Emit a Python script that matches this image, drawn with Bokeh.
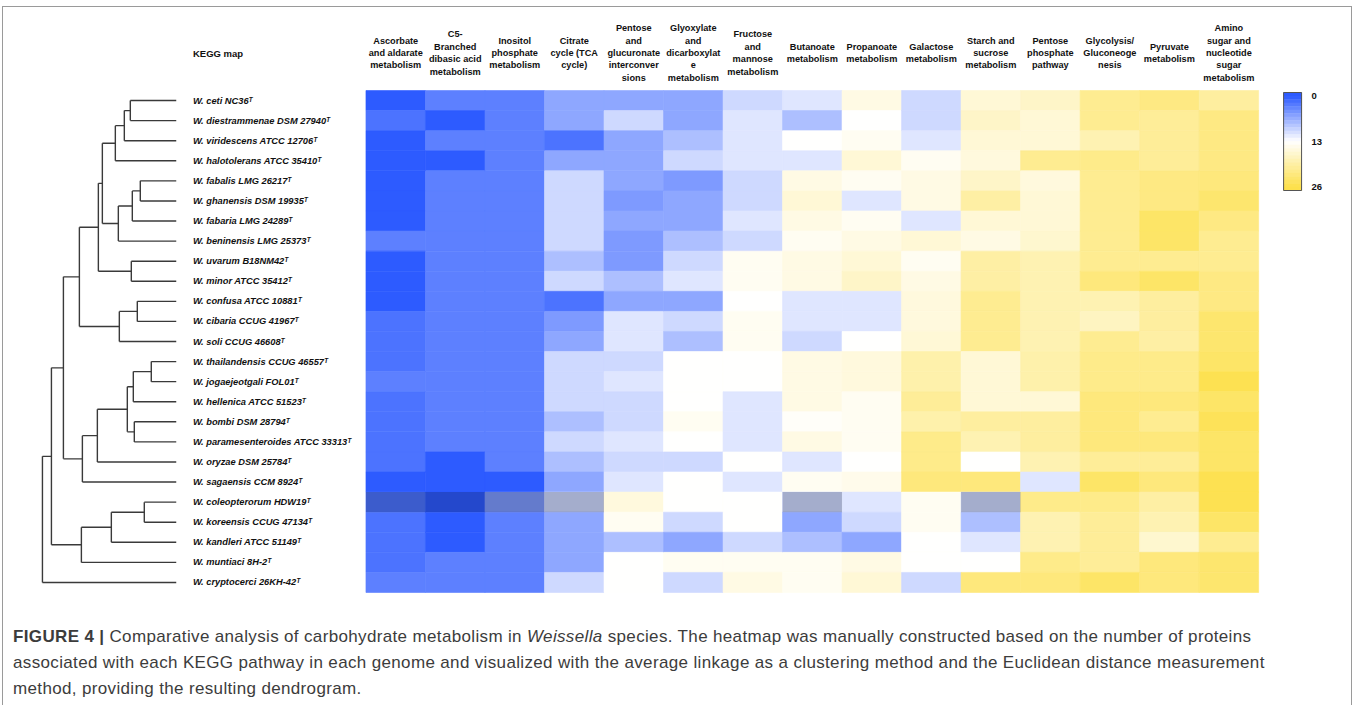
from bokeh.plotting import figure
from bokeh.models import Range1d, ColumnDataSource, LinearColorMapper, Div
from bokeh.transform import transform
from bokeh.layouts import column
from bokeh.core.properties import value
from bokeh.embed import file_html
from bokeh.resources import INLINE

# ---------------- data ----------------
strains = [
    "W. ceti NC36", "W. diestrammenae DSM 27940", "W. viridescens ATCC 12706",
    "W. halotolerans ATCC 35410", "W. fabalis LMG 26217", "W. ghanensis DSM 19935",
    "W. fabaria LMG 24289", "W. beninensis LMG 25373", "W. uvarum B18NM42",
    "W. minor ATCC 35412", "W. confusa ATCC 10881", "W. cibaria CCUG 41967",
    "W. soli CCUG 46608", "W. thailandensis CCUG 46557", "W. jogaejeotgali FOL01",
    "W. hellenica ATCC 51523", "W. bombi DSM 28794", "W. paramesenteroides ATCC 33313",
    "W. oryzae DSM 25784", "W. sagaensis CCM 8924", "W. coleopterorum HDW19",
    "W. koreensis CCUG 47134", "W. kandleri ATCC 51149", "W. muntiaci 8H-2",
    "W. cryptocerci 26KH-42",
]
type_strain_mark = "\u1d40"

pathway_labels = [
    "Ascorbate\nand aldarate\nmetabolism",
    "C5-\nBranched\ndibasic acid\nmetabolism",
    "Inositol\nphosphate\nmetabolism",
    "Citrate\ncycle (TCA\ncycle)",
    "Pentose\nand\nglucuronate\ninterconver\nsions",
    "Glyoxylate\nand\ndicarboxylat\ne\nmetabolism",
    "Fructose\nand\nmannose\nmetabolism",
    "Butanoate\nmetabolism",
    "Propanoate\nmetabolism",
    "Galactose\nmetabolism",
    "Starch and\nsucrose\nmetabolism",
    "Pentose\nphosphate\npathway",
    "Glycolysis/\nGluconeoge\nnesis",
    "Pyruvate\nmetabolism",
    "Amino\nsugar and\nnucleotide\nsugar\nmetabolism",
]

# protein counts per pathway (one list per column, rows in strain order)
ascorbate   = [0, 2, 0, 0, 0, 0, 0, 3, 0, 0, 0, 2, 2, 2, 3, 2, 2, 2, 2, 0, 2, 2, 2, 2, 3]
c5_branched = [3, 0, 3, 0, 3, 3, 3, 3, 3, 3, 3, 3, 3, 3, 3, 3, 3, 3, 0, 0, 0, 0, 0, 3, 3]
inositol    = [3, 3, 3, 3, 3, 3, 3, 3, 3, 3, 3, 3, 3, 3, 3, 3, 3, 3, 3, 0, 5, 3, 3, 3, 3]
citrate     = [6, 6, 2, 6, 10, 10, 10, 10, 8, 10, 2, 5, 6, 10, 10, 10, 8, 10, 8, 6, 10, 6, 6, 6, 10]
pentose_gl  = [6, 10, 6, 6, 6, 5, 6, 5, 5, 8, 6, 11, 11, 10, 11, 10, 10, 11, 10, 11, 15.5, 14, 8, 13, 13]
glyoxylate  = [6, 6, 8, 10, 5, 6, 6, 8, 10, 11, 6, 10, 8, 13, 13, 13, 14, 13, 10, 13, 13, 10, 6, 14, 10]
fructose    = [10, 11, 11, 11, 10, 10, 11, 10, 14, 14, 13, 14, 14, 13, 13, 11, 11, 11, 13, 11, 13, 13, 10, 14, 15]
butanoate   = [11, 8, 13, 11, 15, 16, 15, 14, 15, 15, 11, 11, 10, 15, 15, 15, 13.5, 15, 11, 14, 10, 6, 8, 14, 14]
propanoate  = [15, 13, 14, 16, 14, 11, 14, 15, 16, 17, 11, 11, 13, 15.5, 15.5, 14, 14, 14, 13, 14.5, 11, 10, 6, 15, 16]
galactose   = [10, 10, 11, 14, 15, 15, 11, 16, 14, 15, 15.5, 15.5, 16, 19, 19, 20.5, 19, 21.5, 21.5, 22.5, 14, 14, 13, 13, 10]
starch      = [16, 17, 16, 15.5, 17, 19.5, 16, 15, 19.5, 19.5, 21, 21, 21, 16, 16, 16, 20, 18.5, 13, 22.5, 10, 8, 11, 13, 22.5]
pentose_ph  = [17, 16, 16, 21, 15.5, 16, 16, 16.5, 18.5, 18.5, 18.5, 18.5, 18.5, 19, 19, 16, 20, 20, 18.5, 11, 21.5, 18.5, 18.5, 21.5, 22.5]
glycolysis  = [21, 21, 18.5, 21.5, 21, 21, 21, 21, 21, 22.5, 18.5, 17.5, 21, 21.5, 21.5, 22.5, 22.5, 22.5, 20.5, 24, 21.5, 20.5, 20.5, 20.5, 24]
pyruvate    = [22, 20.5, 20.5, 20.5, 22, 22, 24, 24, 21, 24, 20, 20, 19.5, 21.5, 21.5, 22.5, 21, 22.5, 20.5, 22.5, 19.5, 18.5, 16.5, 22.5, 22.5]
amino_sugar = [20, 22, 22, 22, 22.5, 23.5, 22, 21, 21, 22, 22, 23.5, 23.5, 24, 25.5, 24, 25, 24, 24, 25.5, 25.5, 24, 21, 23.5, 23.5]

columns = [ascorbate, c5_branched, inositol, citrate, pentose_gl, glyoxylate, fructose,
           butanoate, propanoate, galactose, starch, pentose_ph, glycolysis, pyruvate, amino_sugar]

# row that appears shaded (darker) in the original heatmap
shaded_row = "W. coleopterorum HDW19"

# average-linkage dendrogram: (left, right, distance); ids >= 25 are earlier merges
merge_left   = [0, 25, 26, 4, 28, 29, 27, 8, 31, 10, 34, 33, 13, 37, 16, 38, 40, 41, 36, 20, 44, 45, 43, 47]
merge_right  = [1, 2, 3, 5, 6, 7, 30, 9, 32, 11, 12, 35, 14, 15, 17, 39, 18, 19, 42, 21, 22, 23, 46, 24]
merge_height = [4.6, 5.2, 6.1, 3.6, 4.4, 5.8, 7.4, 4.5, 7.8, 3.9, 5.7, 9.7, 2.5, 4.3, 4.2, 4.9,
                7.9, 9.4, 11.3, 3.2, 6.5, 9.5, 12.5, 13.4]

scale_ticks = [0, 13, 26]

# ---------------- layout constants (pixels inside the figure) ----------------
W, H = 1350, 612
CAP_H = 86
HM_L, HM_R = 363, 1257        # heatmap left/right
HM_T, HM_B = 83, 585          # heatmap top/bottom
LEAF_X, DPX = 173, 10.0       # leaf tip x, px per distance unit
LABEL_DX = -173               # row label start relative to heatmap left
CB_L, CB_R, CB_T, CB_B = 1282, 1300, 85, 183
CB_LO, CB_HI = -1, 27

n_rows, n_cols = len(strains), len(columns)


def x_range_px(v0, p0, v1, p1, size):
    k = (v1 - v0) / (p1 - p0)
    return Range1d(start=v0 - p0 * k, end=v0 + (size - p0) * k)


def y_range_px(v0, p0, v1, p1, size):
    # p measured from top; Bokeh start = bottom
    k = (v1 - v0) / (p1 - p0)
    return Range1d(start=v0 + (size - p0) * k, end=v0 - p0 * k)


p = figure(width=W, height=H,
           x_range=x_range_px(0, HM_L, n_cols, HM_R, W),
           y_range=y_range_px(0, HM_T, n_rows, HM_B, H),
           output_backend="svg", toolbar_location=None,
           x_axis_location=None, y_axis_location=None,
           min_border=0, outline_line_color=None)
p.grid.visible = False
p.background_fill_color = "white"
p.extra_x_ranges = {
    "dendro": x_range_px(0, LEAF_X, 1, LEAF_X - DPX, W),
    "cb": x_range_px(0, CB_L, 1, CB_R, W),
}
p.extra_y_ranges = {"cbv": y_range_px(CB_LO, CB_T, CB_HI, CB_B, H)}

# palette blue -> white -> yellow
BLUE, WHITE, YELLOW = (45, 91, 255), (255, 255, 255), (253, 224, 76)


def lerp(a, b, t):
    return tuple(round(x + (y - x) * t) for x, y in zip(a, b))


palette = []
for i in range(256):
    t = i / 255
    c = lerp(BLUE, WHITE, t * 2) if t < 0.5 else lerp(WHITE, YELLOW, (t - 0.5) * 2)
    palette.append("#%02x%02x%02x" % c)
mapper = LinearColorMapper(palette=palette, low=scale_ticks[0], high=scale_ticks[-1])

# heatmap cells
xs, ys, vals, shx, shy = [], [], [], [], []
for ci, col in enumerate(columns):
    for ri, v in enumerate(col):
        xs.append(ci + 0.5)
        ys.append(ri + 0.5)
        vals.append(v)
        if strains[ri] == shaded_row and v <= 10:
            shx.append(ci + 0.5)
            shy.append(ri + 0.5)
src = ColumnDataSource(dict(x=xs, y=ys, v=vals))
p.rect(x="x", y="y", width=1, height=1, source=src,
       fill_color=transform("v", mapper), line_color=transform("v", mapper), line_width=0.6)
p.rect(x=shx, y=shy, width=1, height=1, fill_color="black", fill_alpha=0.2, line_color=None)

FONT = value("Liberation Sans")

# column headers
p.text(x=[c + 0.5 for c in range(n_cols)], y=[0] * n_cols, text=pathway_labels,
       y_offset=-37.5, text_align="center", text_baseline="middle",
       text_font=FONT, text_font_style="bold", text_font_size="9.2px",
       text_line_height=1.24, text_color="#111111")
p.text(x=[0], y=[0], text=["KEGG map"], x_offset=LABEL_DX, y_offset=-37.5,
       text_align="left", text_baseline="middle", text_font=FONT,
       text_font_style="bold", text_font_size="9.5px", text_color="#111111")

# row labels
p.text(x=[0] * n_rows, y=[r + 0.5 for r in range(n_rows)],
       text=[s + type_strain_mark for s in strains], x_offset=LABEL_DX,
       text_align="left", text_baseline="middle", text_font=FONT,
       text_font_style="bold italic", text_font_size="9.3px", text_color="#111111")

# dendrogram
node_y = {i: i + 0.5 for i in range(n_rows)}
node_h = {i: 0.0 for i in range(n_rows)}
dx, dy = [], []
for k, (a, b, h) in enumerate(zip(merge_left, merge_right, merge_height)):
    nid = n_rows + k
    for child in (a, b):
        dx.append([node_h[child], h])
        dy.append([node_y[child], node_y[child]])
    dx.append([h, h])
    dy.append([node_y[a], node_y[b]])
    node_y[nid] = (node_y[a] + node_y[b]) / 2
    node_h[nid] = h
p.multi_line(xs=dx, ys=dy, x_range_name="dendro", line_color="#3a3a3a", line_width=1.4)

# colour bar
bands = list(range(CB_LO, CB_HI))
cb_src = ColumnDataSource(dict(x=[0.5] * len(bands), y=[b + 0.5 for b in bands],
                               v=[b + 0.5 for b in bands]))
p.rect(x="x", y="y", width=1, height=1, source=cb_src,
       fill_color=transform("v", mapper), line_color=transform("v", mapper), line_width=0.5,
       x_range_name="cb", y_range_name="cbv")
p.rect(x=[0.5], y=[(CB_LO + CB_HI) / 2], width=1, height=CB_HI - CB_LO,
       fill_color=None, line_color="#555555", line_width=1,
       x_range_name="cb", y_range_name="cbv")
p.text(x=[1] * len(scale_ticks), y=scale_ticks, text=[str(t) for t in scale_ticks],
       x_offset=10, text_align="left", text_baseline="middle", text_font=FONT,
       text_font_style="bold", text_font_size="9.5px", text_color="#111111",
       x_range_name="cb", y_range_name="cbv")

caption = Div(
    text=("<b>FIGURE 4 |</b> Comparative analysis of carbohydrate metabolism in <i>Weissella</i> "
          "species. The heatmap was manually constructed based on the number of proteins<br>"
          "associated with each KEGG pathway in each genome and visualized with the average "
          "linkage as a clustering method and the Euclidean distance measurement<br>"
          "method, providing the resulting dendrogram."),
    width=W, height=CAP_H, margin=0,
    styles={"font-family": "'Liberation Sans', Arial, sans-serif", "font-size": "17px",
            "letter-spacing": "0.35px", "line-height": "26px", "color": "#3c3c3c",
            "padding-left": "10px", "padding-top": "5px", "white-space": "nowrap"},
)

layout = column(p, caption, width=W,
                styles={"border": "1px solid #9a9a9a", "border-bottom": "none",
                        "margin-left": "2px", "margin-top": "6px"})
open("out.html", "w").write(file_html(layout, INLINE))
